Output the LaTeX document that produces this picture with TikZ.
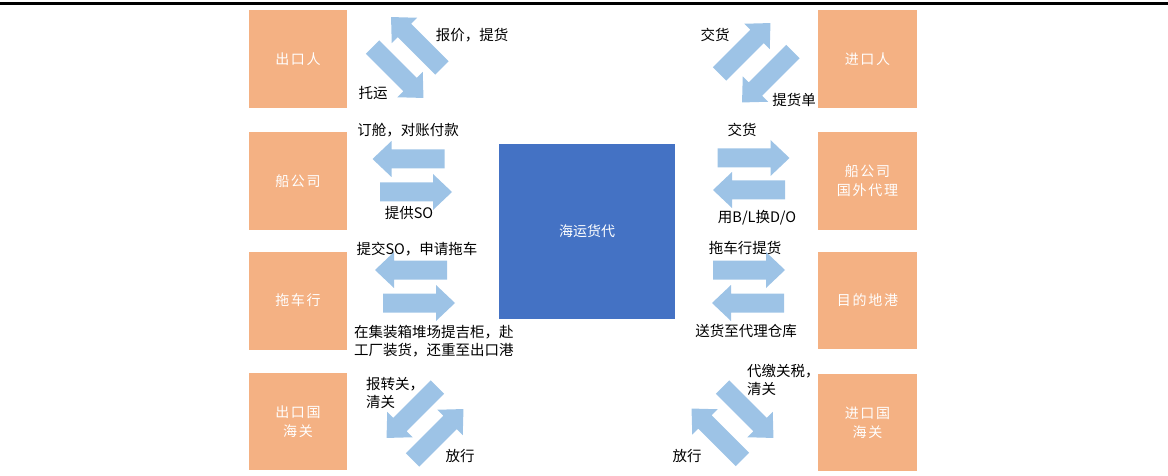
\documentclass[tikz,border=0pt]{standalone}
\usepackage{fontspec}
\setmainfont{Noto Sans CJK SC}
\newfontfamily\boxfont{Noto Sans CJK SC}[LetterSpace=12]
\definecolor{boxorange}{HTML}{F4B183}
\definecolor{boxblue}{HTML}{4472C4}
\definecolor{arrblue}{HTML}{9DC3E6}
\tikzset{
  party/.style={fill=boxorange, minimum width=98pt, minimum height=98pt, inner sep=0pt,
    text=white, font=\boxfont\fontsize{14}{19}\selectfont, align=center},
  lbl/.style={inner sep=0pt, font=\fontsize{14.5}{18}\selectfont, text=black},
  mlbl/.style={lbl, anchor=west, align=left},
  barrow/.pic={\fill[arrblue] (-36,-9.5) -- (17,-9.5) -- (17,-18) -- (36,0) -- (17,18) -- (17,9.5) -- (-36,9.5) -- cycle;}
}
\begin{document}
\begin{tikzpicture}[x=1pt,y=-1pt]
\useasboundingbox (0,0) rectangle (1168,476);
\draw[line width=2.5pt] (0,3.5) -- (1168,3.5);

% parties
\node[party] (exp) at (298,59) {出口人};
\node[party] (ship) at (298,181) {船公司};
\node[party] (truck) at (298,300.5) {拖车行};
\node[party, minimum height=97pt] (expcus) at (298,421.5) {出口国\\海关};
\node[party, minimum width=99pt] (imp) at (867.5,59) {进口人};
\node[party, minimum width=99pt] (agent) at (867.5,181) {船公司\\国外代理};
\node[party, minimum width=99pt, minimum height=97pt] (dest) at (867.5,300.5) {目的地港};
\node[party, minimum width=99pt, minimum height=97pt] (impcus) at (867.5,422.5) {进口国\\海关};
\node[fill=boxblue, minimum width=176pt, minimum height=175pt, inner sep=0pt, text=white,
  font=\fontsize{14}{18}\selectfont] (fwd) at (587,231.5) {海运货代};

% block arrows
\pic[rotate=135] at (416.5,42.5) {barrow};
\pic[rotate=-45] at (398,72.5) {barrow};
\pic[rotate=45] at (745,48.5) {barrow};
\pic[rotate=225] at (767.5,77) {barrow};

\pic[rotate=180] at (408.5,159) {barrow};
\pic[rotate=0] at (416,192) {barrow};
\pic[rotate=0] at (753.5,158) {barrow};
\pic[rotate=180] at (749,190) {barrow};

\pic[rotate=180] at (411,270) {barrow};
\pic[rotate=0] at (419,303) {barrow};
\pic[rotate=0] at (749,270) {barrow};
\pic[rotate=180] at (748,303) {barrow};

\pic[rotate=225] at (412,412.5) {barrow};
\pic[rotate=45] at (438,434.5) {barrow};
\pic[rotate=-45] at (748,412.5) {barrow};
\pic[rotate=135] at (717,434) {barrow};

% labels
\node[lbl] (l1a) at (472,35) {报价，提货};
\node[lbl] (l1b) at (373,93) {托运};
\node[lbl] (r1a) at (715,35) {交货};
\node[lbl] (r1b) at (794,100) {提货单};
\node[lbl] (l2a) at (408,130) {订舱，对账付款};
\node[lbl] (l2b) at (409,213) {提供SO};
\node[lbl] (r2a) at (742,130) {交货};
\node[lbl] (r2b) at (757,218) {用B/L换D/O};
\node[lbl] (l3a) at (417,249) {提交SO，申请拖车};
\node[mlbl] (l3b) at (354,341.5) {在集装箱堆场提吉柜，赴\\工厂装货，还重至出口港};
\node[lbl] (r3a) at (745,248) {拖车行提货};
\node[lbl] (r3b) at (746,331) {送货至代理仓库};
\node[mlbl] (l4a) at (366,393) {报转关，\\清关};
\node[lbl] (l4b) at (460,456) {放行};
\node[mlbl] (r4a) at (747,380) {代缴关税，\\清关};
\node[lbl] (r4b) at (687,456) {放行};
\end{tikzpicture}
\end{document}
